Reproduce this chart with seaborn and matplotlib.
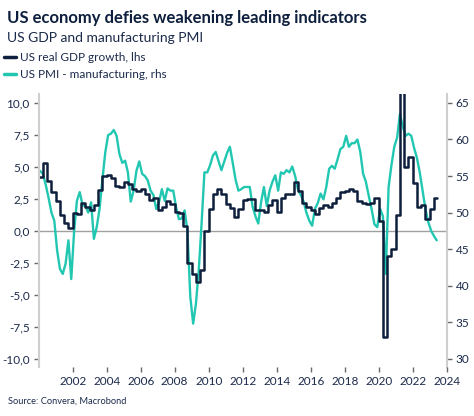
import numpy as np
import pandas as pd
import matplotlib
matplotlib.use("Agg")
import matplotlib.pyplot as plt
import matplotlib.ticker as mticker
from matplotlib.lines import Line2D
import seaborn as sns

# ---------------- data ----------------
title = "US economy defies weakening leading indicators"
subtitle = "US GDP and manufacturing PMI"
source = "Source: Convera, Macrobond"
gdp_label = "US real GDP growth, lhs"
pmi_label = "US PMI - manufacturing, rhs"

# US real GDP growth y/y, quarterly, 2000Q1 .. 2023Q2
gdp_start = "2000-01-01"
gdp_quarterly = [
    4.2, 5.3, 3.9, 3.0,
    2.3, 1.2, 0.6, 0.25,
    1.4, 1.35, 2.15, 1.85,
    1.65, 2.0, 3.2, 4.3,
    4.35, 4.1, 3.5, 3.4,
    3.85, 3.65, 3.3, 3.15,
    3.3, 2.9, 2.4, 2.55,
    1.6, 1.85, 2.3, 2.1,
    1.45, 1.4, 0.4, -2.5,
    -3.35, -4.0, -3.1, 0.0,
    1.7, 2.9, 3.3, 2.9,
    2.1, 1.8, 1.05, 1.7,
    2.4, 2.5, 2.5, 1.6,
    1.65, 1.45, 2.0, 2.4,
    1.5, 2.6, 2.9, 2.9,
    3.8, 3.1, 2.2, 1.85,
    1.6, 1.35, 1.75, 2.0,
    1.85, 2.15, 2.6, 3.0,
    3.15, 3.28, 3.15, 2.3,
    2.2, 2.1, 2.2, 2.55,
    0.8, -8.3, -2.0, -1.4,
    1.2, 12.2, 5.0, 5.75,
    3.75, 1.85, 2.0, 0.95,
    1.7, 2.6,
]

# US manufacturing PMI, every second month, Feb 2000 .. Jun 2023
pmi_start = "2000-02-01"
pmi_values = [
    55.7, 55.3, 53.8, 52.0, 50.0, 48.9,
    44.8, 42.3, 41.6, 43.0, 46.2, 40.9,
    47.5, 51.6, 52.8, 51.0, 50.9, 50.0,
    51.4, 46.4, 48.0, 50.5, 54.5, 58.2,
    60.6, 60.8, 61.3, 60.5, 58.0, 56.8,
    57.1, 55.5, 51.5, 53.0, 55.7, 57.0,
    55.3, 55.0, 54.4, 53.0, 52.4, 50.5,
    51.5, 53.2, 51.6, 53.3, 53.0, 53.0,
    50.7, 49.1, 49.2, 50.3, 47.5, 38.5,
    34.8, 37.5, 42.1, 48.5, 55.5, 55.5,
    56.5, 57.8, 58.3, 57.0, 55.8, 57.0,
    58.2, 59.0, 56.8, 54.5, 53.0, 53.2,
    53.5, 53.5, 53.5, 50.8, 49.5, 48.5,
    51.5, 53.5, 50.9, 53.0, 54.2, 55.1,
    53.0, 55.5, 55.3, 55.8, 55.5, 56.3,
    55.0, 53.2, 52.4, 51.5, 50.0, 48.9,
    48.2, 50.5, 51.3, 52.6, 51.8, 53.5,
    56.0, 56.4, 56.0, 57.3, 58.7, 59.0,
    60.5, 59.0, 59.5, 59.5, 60.0, 58.3,
    55.3, 54.2, 52.3, 50.5, 48.4, 48.0,
    50.5, 49.5, 41.6, 53.5, 56.5, 59.0,
    60.3, 63.5, 61.8, 60.5, 60.8, 60.5,
    58.8, 57.5, 55.5, 53.0, 50.5, 48.7,
    47.5, 46.8, 46.2,
]

left_ticks = [-10.0, -7.5, -5.0, -2.5, 0.0, 2.5, 5.0, 7.5, 10.0]
right_ticks = [30, 35, 40, 45, 50, 55, 60, 65]
year_ticks = list(range(2002, 2025, 2))

# ---------------- build frames ----------------
gdp_monthly = np.repeat(np.array(gdp_quarterly), 3)
gdp_df = pd.DataFrame({
    "date": pd.date_range(gdp_start, periods=len(gdp_monthly), freq="MS"),
    "value": gdp_monthly,
})
pmi_df = pd.DataFrame({
    "date": pd.date_range(pmi_start, periods=len(pmi_values), freq="2MS"),
    "value": pmi_values,
})

# ---------------- style ----------------
sns.set_theme(style="white")
plt.rcParams["font.family"] = ["Lato", "DejaVu Sans"]

navy = "#0d1f3c"
teal = "#22c7b2"
text_col = "#1b2a4a"
spine_col = "#cfcfcf"

fig = plt.figure(figsize=(4.74, 4.16), dpi=100)
ax = fig.add_axes([0.0816, 0.1178, 0.8608, 0.6562])
ax2 = ax.twinx()

# mapping between the two scales: rhs = 47.5 + 1.75 * lhs
lmin, lmax = -10.65, 10.7
ax.set_ylim(lmin, lmax)
ax2.set_ylim(47.5 + 1.75 * lmin, 47.5 + 1.75 * lmax)

ax2.axhline(47.5, color="#a0a0a0", lw=1.0, zorder=0)
sns.lineplot(data=pmi_df, x="date", y="value", ax=ax2, color=teal,
             lw=1.7, estimator=None)
sns.lineplot(data=gdp_df, x="date", y="value", ax=ax, color=navy,
             lw=1.8, estimator=None, drawstyle="steps-post")

ax.set_zorder(ax2.get_zorder() + 1)
ax.patch.set_visible(False)

ax.set_xlim(pd.Timestamp("2000-01-01"), pd.Timestamp("2024-01-01"))
ax.set_xticks([pd.Timestamp(f"{y}-01-01") for y in year_ticks])
ax.set_xticklabels([str(y) for y in year_ticks])

ax.set_yticks(left_ticks)
ax.yaxis.set_major_formatter(
    mticker.FuncFormatter(lambda v, p: f"{v:.1f}".replace(".", ",")))
ax2.set_yticks(right_ticks)

for a in (ax, ax2):
    a.set_xlabel("")
    a.set_ylabel("")
    for s in a.spines.values():
        s.set_visible(False)
ax.spines["left"].set_visible(True)
ax.spines["left"].set_color(spine_col)
ax.spines["left"].set_linewidth(1.5)
ax2.spines["right"].set_visible(True)
ax2.spines["right"].set_color(spine_col)
ax2.spines["right"].set_linewidth(1.5)

ax.tick_params(axis="y", left=True, length=3.5, width=1, color="#6a6a6a",
               labelsize=8.5, labelcolor=text_col, pad=3)
ax.tick_params(axis="x", bottom=True, length=3.5, width=1, color="#6a6a6a",
               labelsize=8.5, labelcolor=text_col, pad=3)
ax2.tick_params(axis="y", right=True, length=3.5, width=1, color="#6a6a6a",
                labelsize=8.5, labelcolor=text_col, pad=3)

# ---------------- texts ----------------
fig.text(0.014, 0.944, title, fontsize=12, fontweight="bold",
         color=navy, ha="left", va="baseline")
fig.text(0.014, 0.900, subtitle, fontsize=10, color=text_col,
         ha="left", va="baseline")
fig.text(0.017, 0.030, source, fontsize=6.7, color=text_col,
         ha="left", va="baseline")

handles = [Line2D([], [], color=navy, lw=2.5),
           Line2D([], [], color=teal, lw=2.5)]
fig.legend(handles, [gdp_label, pmi_label], loc="upper left",
           bbox_to_anchor=(0.008, 0.875), frameon=False, fontsize=8.5,
           handlelength=1.0, handletextpad=0.35, labelspacing=0.5,
           borderpad=0, borderaxespad=0, labelcolor=text_col)

fig.savefig("out.png", dpi=100)
